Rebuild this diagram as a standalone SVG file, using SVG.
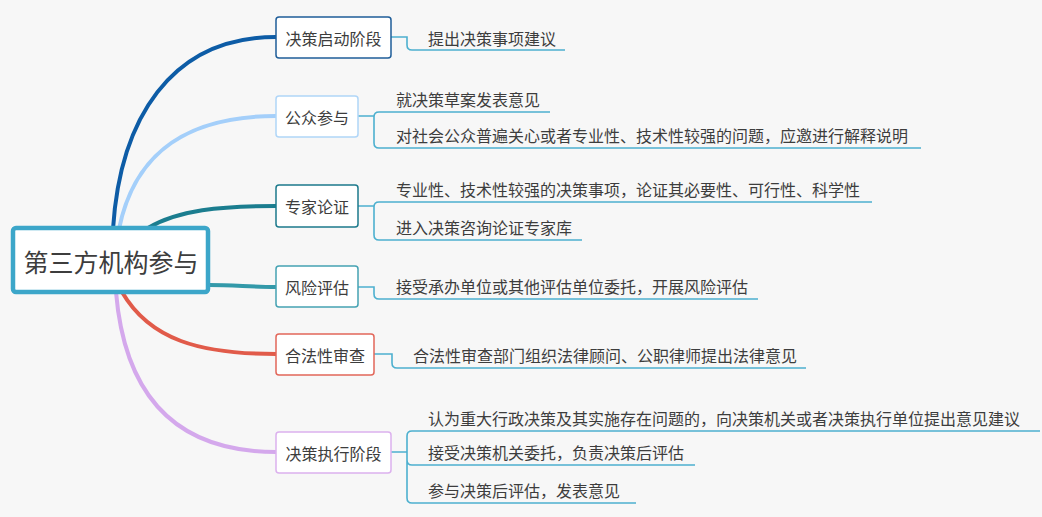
<svg xmlns="http://www.w3.org/2000/svg" width="1042" height="517" viewBox="0 0 1042 517">
<style>
text{font-family:"Microsoft YaHei","Noto Sans CJK SC","Noto Sans",sans-serif;fill:#3d3d3d}
.t{font-size:16px;text-anchor:middle;dominant-baseline:central}
.leaf{font-size:16px}
.box{fill:#ffffff;stroke-width:1.5}
.br{fill:none;stroke-width:4;stroke-linecap:round}
.ln{fill:none;stroke:#4db0cf;stroke-width:1.6}
</style>
<rect width="1042" height="517" fill="#f7f7f7"/>
<g id="connectors">
<path class="br" stroke="#0d5ca6" d="M113,229 C120,120 170,37 276,37"/>
<path class="br" stroke="#a4cffa" d="M119,229 C135,150 190,116 276,116"/>
<path class="br" stroke="#1b7d8f" d="M148,228 C178,210 220,206 276,206"/>
<path class="br" stroke="#3399a9" d="M209,285 C235,285 250,287 276,287"/>
<path class="br" stroke="#e15b4a" d="M122,292 C150,340 200,354 276,354"/>
<path class="br" stroke="#d4a8ec" d="M116,292 C125,400 180,452 276,452"/>
<path class="ln" d="M390,37 H407 V45 Q407,50 412,50 H565"/>
<path class="ln" d="M358,116 H374 M374,116 V117 Q374,112 379,112 H550 M374,116 V143 Q374,148 379,148 H921"/>
<path class="ln" d="M358,206 H374 M374,206 V207 Q374,202 379,202 H872 M374,206 V235 Q374,240 379,240 H582"/>
<path class="ln" d="M358,287 H374 V294 Q374,299 379,299 H758"/>
<path class="ln" d="M374,354 H392 V363 Q392,368 397,368 H806"/>
<path class="ln" d="M391,452 H407 M407,452 V436 Q407,431 412,431 H1040 M407,452 V460 Q407,465 412,465 H695 M407,452 V498 Q407,503 412,503 H636"/>
</g>
<g id="root">
<rect x="13" y="228" width="195" height="64" rx="3" fill="#ffffff" stroke="#3ca6c9" stroke-width="4.5"/>
<text x="111" y="261" style="font-size:25px;text-anchor:middle;dominant-baseline:central">第三方机构参与</text>
</g>
<g id="n1">
<rect class="box" x="276" y="17" width="115" height="41" rx="3" stroke="#1f5e99"/>
<text class="t" x="333.5" y="38">决策启动阶段</text>
<text class="leaf" x="428" y="45">提出决策事项建议</text>
</g>
<g id="n2">
<rect class="box" x="276" y="96" width="82" height="41" rx="3" stroke="#b0d6f8"/>
<text class="t" x="317" y="117">公众参与</text>
<text class="leaf" x="396" y="106">就决策草案发表意见</text>
<text class="leaf" x="396" y="142">对社会公众普遍关心或者专业性、技术性较强的问题，应邀进行解释说明</text>
</g>
<g id="n3">
<rect class="box" x="276" y="185" width="82" height="42" rx="3" stroke="#1c7a8c"/>
<text class="t" x="317" y="206">专家论证</text>
<text class="leaf" x="396" y="196">专业性、技术性较强的决策事项，论证其必要性、可行性、科学性</text>
<text class="leaf" x="396" y="234">进入决策咨询论证专家库</text>
</g>
<g id="n4">
<rect class="box" x="276" y="266" width="82" height="41" rx="3" stroke="#45a2b3"/>
<text class="t" x="317" y="287">风险评估</text>
<text class="leaf" x="396" y="293">接受承办单位或其他评估单位委托，开展风险评估</text>
</g>
<g id="n5">
<rect class="box" x="276" y="334" width="98" height="41" rx="3" stroke="#e2675a"/>
<text class="t" x="325" y="355">合法性审查</text>
<text class="leaf" x="413" y="362">合法性审查部门组织法律顾问、公职律师提出法律意见</text>
</g>
<g id="n6">
<rect class="box" x="276" y="432" width="115" height="41" rx="3" stroke="#dcb1ee"/>
<text class="t" x="333.5" y="453">决策执行阶段</text>
<text class="leaf" x="428" y="425">认为重大行政决策及其实施存在问题的，向决策机关或者决策执行单位提出意见建议</text>
<text class="leaf" x="428" y="459">接受决策机关委托，负责决策后评估</text>
<text class="leaf" x="428" y="497">参与决策后评估，发表意见</text>
</g>
</svg>
